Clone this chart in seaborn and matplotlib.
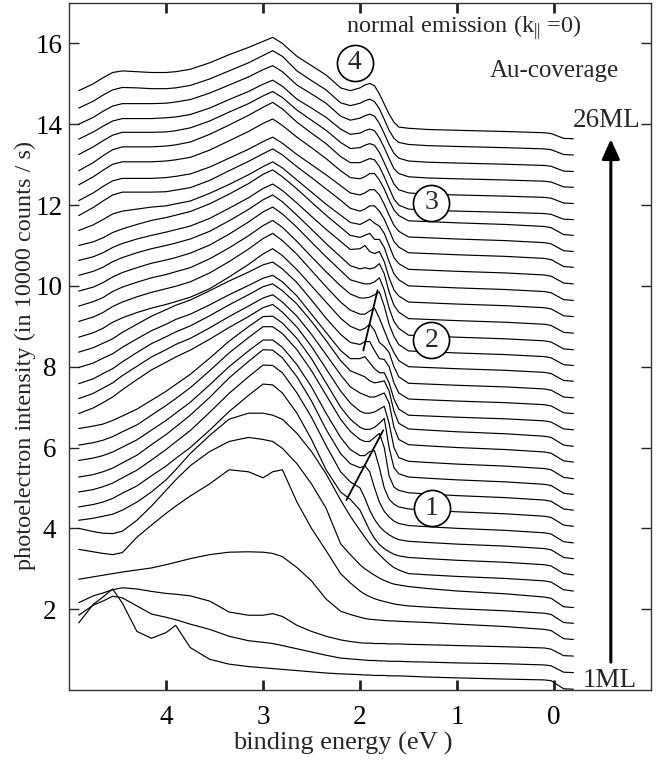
import matplotlib
matplotlib.use("Agg")
import matplotlib.pyplot as plt
import pandas as pd
import seaborn as sns

# Binding-energy grid (eV) shared by all spectra
energy = [4.9, 4.75, 4.65, 4.55, 4.45, 4.3, 4.15, 4.0, 3.9, 3.75, 3.55, 3.35, 3.15, 3.0, 2.9,
          2.8, 2.65, 2.5, 2.35, 2.2, 2.1, 2.0, 1.95, 1.9, 1.85, 1.8, 1.75, 1.7, 1.65, 1.6,
          1.5, 1.3, 1.0, 0.5, 0.1, 0.03, -0.1, -0.2]

# Stacked normal-emission spectra, lowest coverage (1 ML) first, in 10^4 counts/s
s01 = [1.66, 2.12, 2.30, 2.50, 2.15, 1.45, 1.28, 1.42, 1.60, 1.05, 0.76, 0.64, 0.58, 0.55, 0.53,
       0.51, 0.48, 0.45, 0.42, 0.40, 0.39, 0.38, 0.37, 0.37, 0.36, 0.36, 0.36, 0.35, 0.35, 0.35,
       0.34, 0.32, 0.30, 0.27, 0.25, 0.23, 0.03, 0.02]
s02 = [1.85, 2.10, 2.20, 2.32, 2.28, 2.08, 1.88, 1.80, 1.74, 1.63, 1.50, 1.33, 1.22, 1.18, 1.15,
       1.10, 1.02, 0.94, 0.86, 0.79, 0.77, 0.75, 0.74, 0.73, 0.73, 0.72, 0.72, 0.71, 0.71, 0.71,
       0.70, 0.69, 0.67, 0.65, 0.62, 0.60, 0.44, 0.43]
s03 = [2.16, 2.33, 2.40, 2.48, 2.53, 2.50, 2.44, 2.39, 2.37, 2.33, 2.20, 1.93, 1.85, 1.85, 1.89,
       1.82, 1.60, 1.45, 1.33, 1.24, 1.20, 1.17, 1.16, 1.16, 1.15, 1.15, 1.15, 1.14, 1.14, 1.14,
       1.13, 1.12, 1.10, 1.07, 1.04, 1.01, 0.85, 0.84]
s04 = [2.74, 2.80, 2.84, 2.88, 2.92, 2.97, 3.02, 3.10, 3.16, 3.25, 3.35, 3.41, 3.42, 3.41, 3.38,
       3.30, 3.03, 2.70, 2.25, 1.95, 1.87, 1.80, 1.77, 1.75, 1.74, 1.73, 1.72, 1.71, 1.71, 1.70,
       1.69, 1.67, 1.63, 1.57, 1.50, 1.47, 1.27, 1.25]
s05 = [3.48, 3.42, 3.38, 3.35, 3.40, 3.78, 4.08, 4.37, 4.55, 4.80, 5.10, 5.45, 5.40, 5.25, 5.40,
       5.45, 4.65, 4.00, 3.45, 2.88, 2.65, 2.45, 2.37, 2.31, 2.26, 2.22, 2.19, 2.16, 2.13, 2.11,
       2.08, 2.05, 2.01, 1.96, 1.90, 1.87, 1.67, 1.65]
s06 = [4.00, 3.92, 3.88, 3.87, 3.93, 4.20, 4.55, 4.94, 5.20, 5.55, 5.90, 6.15, 6.25, 6.20, 6.15,
       5.98, 5.60, 5.10, 4.50, 3.62, 3.35, 3.10, 3.00, 2.92, 2.84, 2.77, 2.71, 2.66, 2.62, 2.60,
       2.56, 2.51, 2.45, 2.38, 2.30, 2.27, 2.06, 2.04]
s07 = [4.20, 4.25, 4.30, 4.35, 4.45, 4.65, 4.90, 5.20, 5.45, 5.85, 6.30, 6.70, 6.85, 6.85, 6.80,
       6.70, 6.35, 5.90, 5.35, 4.70, 4.30, 3.95, 3.78, 3.62, 3.47, 3.35, 3.23, 3.12, 3.03, 2.97,
       2.88, 2.85, 2.81, 2.76, 2.70, 2.67, 2.48, 2.45]
s08 = [4.53, 4.59, 4.65, 4.74, 4.87, 5.05, 5.30, 5.54, 5.73, 6.00, 6.43, 6.89, 7.29, 7.57, 7.55,
       7.35, 6.85, 6.20, 5.45, 4.90, 4.72, 4.45, 4.20, 3.95, 3.75, 3.60, 3.50, 3.42, 3.36, 3.32,
       3.28, 3.25, 3.21, 3.16, 3.10, 3.07, 2.88, 2.85]
s09 = [4.90, 4.96, 5.03, 5.12, 5.25, 5.44, 5.69, 5.95, 6.14, 6.42, 6.87, 7.34, 7.75, 8.04, 8.03,
       7.85, 7.35, 6.75, 6.05, 5.40, 5.15, 5.00, 4.75, 4.45, 4.22, 4.05, 3.93, 3.84, 3.77, 3.72,
       3.68, 3.65, 3.61, 3.56, 3.50, 3.47, 3.28, 3.25]
s10 = [5.27, 5.33, 5.40, 5.49, 5.62, 5.81, 6.07, 6.32, 6.51, 6.80, 7.24, 7.72, 8.13, 8.42, 8.41,
       8.22, 7.75, 7.15, 6.45, 5.85, 5.60, 5.50, 5.55, 5.40, 5.00, 4.65, 4.42, 4.28, 4.18, 4.12,
       4.07, 4.04, 4.00, 3.95, 3.89, 3.86, 3.67, 3.64]
s11 = [5.68, 5.74, 5.80, 5.89, 6.01, 6.19, 6.43, 6.67, 6.85, 7.12, 7.55, 8.00, 8.39, 8.66, 8.66,
       8.48, 8.05, 7.50, 6.85, 6.25, 5.95, 5.80, 5.80, 5.90, 5.92, 5.50, 5.00, 4.72, 4.60, 4.53,
       4.48, 4.45, 4.41, 4.36, 4.30, 4.27, 4.08, 4.05]
s12 = [6.06, 6.12, 6.18, 6.27, 6.39, 6.56, 6.80, 7.04, 7.21, 7.48, 7.90, 8.34, 8.72, 8.99, 8.99,
       8.82, 8.42, 7.90, 7.30, 6.70, 6.40, 6.20, 6.15, 6.15, 6.25, 6.35, 6.00, 5.30, 5.02, 4.94,
       4.88, 4.85, 4.81, 4.76, 4.70, 4.67, 4.48, 4.45]
s13 = [6.47, 6.53, 6.58, 6.67, 6.78, 6.95, 7.17, 7.39, 7.56, 7.81, 8.21, 8.63, 8.99, 9.24, 9.25,
       9.08, 8.70, 8.20, 7.60, 7.00, 6.70, 6.50, 6.45, 6.45, 6.50, 6.60, 6.72, 6.00, 5.50, 5.35,
       5.27, 5.24, 5.20, 5.15, 5.09, 5.06, 4.87, 4.84]
s14 = [6.84, 6.98, 7.11, 7.25, 7.43, 7.68, 7.92, 8.11, 8.24, 8.41, 8.68, 8.97, 9.24, 9.46, 9.54,
       9.35, 8.98, 8.50, 7.95, 7.40, 7.10, 6.90, 6.85, 6.85, 6.88, 6.95, 7.02, 6.60, 6.00, 5.75,
       5.66, 5.63, 5.59, 5.54, 5.48, 5.45, 5.26, 5.23]
s15 = [7.21, 7.34, 7.47, 7.60, 7.78, 8.01, 8.24, 8.42, 8.55, 8.70, 8.96, 9.24, 9.50, 9.70, 9.78,
       9.60, 9.25, 8.80, 8.30, 7.80, 7.50, 7.35, 7.30, 7.25, 7.25, 7.30, 7.35, 7.10, 6.50, 6.20,
       6.07, 6.04, 6.00, 5.95, 5.89, 5.86, 5.67, 5.64]
s16 = [7.58, 7.70, 7.83, 7.95, 8.12, 8.35, 8.57, 8.74, 8.86, 9.01, 9.26, 9.53, 9.78, 9.98, 10.05,
       9.88, 9.55, 9.12, 8.65, 8.15, 7.90, 7.80, 7.75, 7.65, 7.60, 7.62, 7.65, 7.40, 6.90, 6.60,
       6.46, 6.43, 6.39, 6.34, 6.28, 6.25, 6.06, 6.03]
s17 = [7.98, 8.09, 8.21, 8.32, 8.48, 8.69, 8.89, 9.05, 9.17, 9.30, 9.53, 9.78, 10.01, 10.19, 10.26,
       10.10, 9.75, 9.30, 8.85, 8.40, 8.20, 8.20, 8.25, 8.10, 7.95, 7.85, 7.85, 7.60, 7.20, 6.95,
       6.80, 6.78, 6.75, 6.71, 6.66, 6.63, 6.46, 6.44]
s18 = [8.36, 8.47, 8.58, 8.69, 8.85, 9.05, 9.25, 9.41, 9.52, 9.65, 9.88, 10.12, 10.34, 10.52, 10.59,
       10.42, 10.08, 9.65, 9.20, 8.80, 8.60, 8.55, 8.62, 8.62, 8.40, 8.20, 8.18, 8.00, 7.60, 7.35,
       7.20, 7.18, 7.15, 7.11, 7.06, 7.03, 6.86, 6.84]
s19 = [8.73, 8.84, 8.95, 9.10, 9.21, 9.34, 9.45, 9.54, 9.61, 9.72, 9.93, 10.22, 10.53, 10.79, 10.92,
       10.75, 10.40, 10.00, 9.60, 9.20, 9.00, 8.90, 8.95, 9.05, 8.90, 8.60, 8.50, 8.35, 8.00, 7.75,
       7.59, 7.57, 7.54, 7.50, 7.45, 7.42, 7.25, 7.23]
s20 = [9.12, 9.23, 9.34, 9.49, 9.60, 9.73, 9.84, 9.93, 9.99, 10.10, 10.32, 10.60, 10.91, 11.17, 11.30,
       11.12, 10.78, 10.38, 9.98, 9.60, 9.40, 9.30, 9.30, 9.38, 9.45, 9.20, 8.90, 8.60, 8.35, 8.15,
       8.00, 7.98, 7.95, 7.91, 7.86, 7.83, 7.66, 7.64]
s21 = [9.50, 9.61, 9.71, 9.86, 9.97, 10.09, 10.20, 10.28, 10.35, 10.45, 10.67, 10.94, 11.24, 11.49, 11.62,
       11.45, 11.10, 10.72, 10.35, 10.00, 9.80, 9.70, 9.70, 9.72, 9.78, 9.85, 9.50, 9.05, 8.75, 8.55,
       8.39, 8.37, 8.34, 8.30, 8.25, 8.22, 8.05, 8.03]
s22 = [9.87, 9.97, 10.08, 10.22, 10.33, 10.45, 10.56, 10.64, 10.70, 10.81, 11.01, 11.28, 11.58, 11.83, 11.95,
       11.78, 11.45, 11.08, 10.72, 10.38, 10.15, 10.08, 10.05, 10.05, 10.10, 10.20, 9.90, 9.45, 9.12, 8.95,
       8.78, 8.76, 8.73, 8.69, 8.64, 8.61, 8.44, 8.42]
s23 = [10.26, 10.36, 10.46, 10.60, 10.70, 10.82, 10.92, 11.00, 11.06, 11.16, 11.35, 11.61, 11.89, 12.13, 12.25,
       12.08, 11.75, 11.40, 11.05, 10.72, 10.50, 10.42, 10.45, 10.42, 10.45, 10.55, 10.30, 9.85, 9.52, 9.35,
       9.19, 9.17, 9.14, 9.10, 9.05, 9.02, 8.85, 8.83]
s24 = [10.63, 10.72, 10.82, 10.95, 11.05, 11.16, 11.25, 11.33, 11.39, 11.48, 11.67, 11.92, 12.18, 12.41, 12.52,
       12.36, 12.05, 11.72, 11.40, 11.10, 10.90, 10.92, 11.00, 10.85, 10.80, 10.85, 10.60, 10.20, 9.90, 9.75,
       9.60, 9.58, 9.55, 9.51, 9.46, 9.43, 9.26, 9.24]
s25 = [11.00, 11.09, 11.19, 11.32, 11.41, 11.52, 11.62, 11.69, 11.75, 11.84, 12.03, 12.27, 12.53, 12.76, 12.87,
       12.70, 12.40, 12.07, 11.75, 11.45, 11.25, 11.20, 11.25, 11.30, 11.15, 11.15, 10.95, 10.60, 10.30, 10.15,
       10.00, 9.98, 9.95, 9.91, 9.86, 9.83, 9.66, 9.64]
s26 = [11.37, 11.51, 11.64, 11.78, 11.85, 11.90, 11.95, 11.98, 12.03, 12.10, 12.29, 12.51, 12.75, 12.95, 13.07,
       12.92, 12.62, 12.32, 12.02, 11.75, 11.57, 11.52, 11.58, 11.65, 11.55, 11.48, 11.30, 11.00, 10.70, 10.55,
       10.41, 10.39, 10.36, 10.32, 10.27, 10.24, 10.07, 10.05]
s27 = [11.74, 11.94, 12.10, 12.25, 12.32, 12.32, 12.32, 12.33, 12.37, 12.43, 12.61, 12.85, 13.08, 13.27, 13.39,
       13.24, 12.95, 12.68, 12.40, 12.12, 11.92, 11.85, 11.90, 11.98, 11.98, 11.85, 11.65, 11.38, 11.10, 10.96,
       10.82, 10.80, 10.77, 10.73, 10.68, 10.65, 10.48, 10.46]
s28 = [12.11, 12.30, 12.46, 12.60, 12.66, 12.66, 12.66, 12.68, 12.71, 12.77, 12.94, 13.16, 13.38, 13.57, 13.68,
       13.53, 13.25, 13.00, 12.75, 12.48, 12.30, 12.25, 12.30, 12.38, 12.38, 12.25, 12.02, 11.75, 11.50, 11.35,
       11.21, 11.19, 11.16, 11.12, 11.07, 11.04, 10.87, 10.85]
s29 = [12.50, 12.70, 12.86, 13.01, 13.07, 13.07, 13.07, 13.09, 13.12, 13.18, 13.36, 13.59, 13.82, 14.02, 14.13,
       13.97, 13.68, 13.42, 13.15, 12.85, 12.68, 12.65, 12.70, 12.78, 12.78, 12.62, 12.40, 12.12, 11.88, 11.74,
       11.61, 11.59, 11.56, 11.52, 11.47, 11.44, 11.27, 11.25]
s30 = [12.85, 13.05, 13.22, 13.37, 13.44, 13.44, 13.44, 13.46, 13.49, 13.56, 13.75, 13.98, 14.22, 14.42, 14.54,
       14.38, 14.05, 13.78, 13.52, 13.20, 13.05, 13.05, 13.10, 13.15, 13.12, 12.95, 12.70, 12.42, 12.15, 12.00,
       11.90, 11.87, 11.85, 11.82, 11.79, 11.77, 11.65, 11.64]
s31 = [13.25, 13.44, 13.59, 13.73, 13.80, 13.80, 13.80, 13.81, 13.84, 13.91, 14.08, 14.30, 14.51, 14.70, 14.81,
       14.66, 14.35, 14.10, 13.85, 13.55, 13.40, 13.42, 13.48, 13.52, 13.48, 13.30, 13.05, 12.78, 12.52, 12.38,
       12.30, 12.27, 12.25, 12.22, 12.19, 12.17, 12.05, 12.04]
s32 = [13.63, 13.81, 13.95, 14.08, 14.14, 14.14, 14.14, 14.16, 14.18, 14.24, 14.40, 14.61, 14.81, 14.99, 15.09,
       14.94, 14.62, 14.40, 14.17, 13.88, 13.75, 13.78, 13.84, 13.88, 13.84, 13.66, 13.42, 13.15, 12.90, 12.78,
       12.70, 12.67, 12.65, 12.62, 12.59, 12.57, 12.45, 12.44]
s33 = [14.00, 14.17, 14.32, 14.45, 14.51, 14.51, 14.51, 14.52, 14.55, 14.61, 14.77, 14.97, 15.17, 15.35, 15.45,
       15.30, 14.97, 14.75, 14.52, 14.20, 14.10, 14.15, 14.21, 14.25, 14.20, 14.02, 13.77, 13.50, 13.28, 13.16,
       13.09, 13.06, 13.04, 13.01, 12.98, 12.96, 12.84, 12.83]
s34 = [14.40, 14.57, 14.72, 14.85, 14.91, 14.90, 14.88, 14.88, 14.90, 14.96, 15.12, 15.32, 15.52, 15.70, 15.82,
       15.68, 15.32, 15.08, 14.85, 14.53, 14.46, 14.52, 14.58, 14.62, 14.56, 14.38, 14.12, 13.85, 13.65, 13.55,
       13.50, 13.47, 13.45, 13.42, 13.39, 13.37, 13.25, 13.24]
s35 = [14.83, 15.00, 15.15, 15.28, 15.32, 15.30, 15.28, 15.28, 15.30, 15.36, 15.52, 15.72, 15.90, 16.05, 16.15,
       16.00, 15.68, 15.45, 15.22, 14.90, 14.83, 14.90, 14.97, 15.01, 14.95, 14.75, 14.50, 14.25, 14.05, 13.93,
       13.90, 13.87, 13.85, 13.82, 13.79, 13.77, 13.65, 13.64]

spectra = [s01, s02, s03, s04, s05, s06, s07, s08, s09, s10, s11, s12, s13, s14, s15, s16, s17, s18,
           s19, s20, s21, s22, s23, s24, s25, s26, s27, s28, s29, s30, s31, s32, s33, s34, s35]

# Peak-dispersion guide lines (energy, intensity)
guide1_energy = [2.14, 1.76]
guide1_intensity = [4.70, 6.43]
guide2_energy = [1.966, 1.819]
guide2_intensity = [8.40, 9.89]

# Circled state labels
state_labels = ["4", "3", "2", "1"]
state_energy = [2.056, 1.264, 1.264, 1.259]
state_intensity = [15.52, 12.06, 8.65, 4.50]

x_ticks = [4, 3, 2, 1, 0]
y_ticks = [2, 4, 6, 8, 10, 12, 14, 16]

sns.set_style("ticks")
plt.rcParams["font.family"] = ["Liberation Serif", "DejaVu Serif"]
plt.rcParams["mathtext.fontset"] = "custom"
plt.rcParams["mathtext.rm"] = "Liberation Serif"
plt.rcParams["mathtext.it"] = "Liberation Serif:italic"

rows = []
for k, ys in enumerate(spectra):
    for e, y in zip(energy, ys):
        rows.append((k, e, y))
df = pd.DataFrame(rows, columns=["spectrum", "energy", "intensity"])

fig = plt.figure(figsize=(6.71, 7.6), dpi=100)
ax = fig.add_axes([69 / 671, 70 / 760, 582 / 671, 687 / 760])

sns.lineplot(data=df, x="energy", y="intensity", units="spectrum", estimator=None,
             sort=False, color="black", linewidth=0.85, legend=False, ax=ax)

ax.plot(guide1_energy, guide1_intensity, color="black", lw=1.3)
ax.plot(guide2_energy, guide2_intensity, color="black", lw=1.3)

ax.set_xlim(5.0, -1.0)
ax.set_ylim(0, 17)
ax.set_xticks(x_ticks)
ax.set_yticks(y_ticks)
ax.set_xticklabels([str(t) for t in x_ticks])
ax.set_yticklabels([str(t) for t in y_ticks])

for sp in ax.spines.values():
    sp.set_linewidth(1.0)
    sp.set_color("#333333")

ax.tick_params(axis="both", direction="in", top=True, right=True, labelsize=19.5,
               length=7.5, colors="#222222", labelcolor="black")
ax.tick_params(axis="x", width=2.0, pad=11)
ax.tick_params(axis="y", width=1.0, pad=14)
for lab in ax.get_yticklabels():
    lab.set_horizontalalignment("center")

ax.set_xlabel("binding energy (eV )", fontsize=19)
ax.xaxis.set_label_coords((343 - 69) / 582, (690 - 743) / 687)
ax.xaxis.label.set_va("center")
ax.set_ylabel("photoelectron intensity (in 10000 counts / s)", fontsize=17.5)
ax.yaxis.set_label_coords((25 - 69) / 582, (690 - 355) / 687)
ax.yaxis.label.set_va("center")

# circled state markers
ax.plot(state_energy, state_intensity, "o", ms=26, mfc="white", mec="black", mew=1.2,
        zorder=5, clip_on=False)
for lab, e, y in zip(state_labels, state_energy, state_intensity):
    ax.text(e, y, lab, ha="center", va="center", fontsize=20, zorder=6)

ax.text(0.93, 16.39, r"normal emission (k$_{||}$ =0)", ha="center", va="center", fontsize=17.5)
ax.text(-0.005, 15.32, "Au-coverage", ha="center", va="center", fontsize=18)
ax.text(-0.545, 14.09, "26ML", ha="center", va="center", fontsize=19.5)
ax.text(-0.576, 0.235, "1ML", ha="center", va="center", fontsize=19.5)

ax.annotate("", xy=(-0.586, 13.63), xytext=(-0.586, 0.69),
            arrowprops=dict(arrowstyle="-|>,head_length=0.6,head_width=0.27",
                            mutation_scale=20, lw=2.2, color="black",
                            shrinkA=0, shrinkB=0))

fig.savefig("out.png", dpi=100)
